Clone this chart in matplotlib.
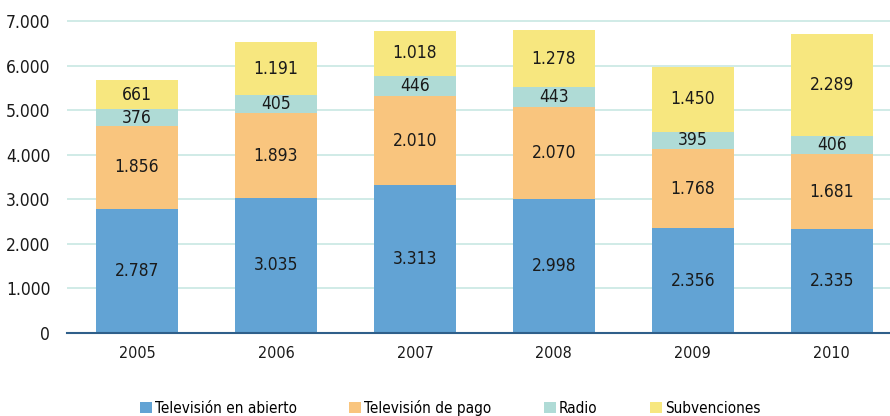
import matplotlib
matplotlib.use("Agg")
import matplotlib.pyplot as plt
from matplotlib.patches import Patch
import numpy as np

plt.rcParams["font.family"] = ["DejaVu Sans"]
plt.rcParams["font.stretch"] = "condensed"

# Ingresos por año (miles de euros)
years = ["2005", "2006", "2007", "2008", "2009", "2010"]
tv_abierto = [2787, 3035, 3313, 2998, 2356, 2335]
tv_pago = [1856, 1893, 2010, 2070, 1768, 1681]
radio = [376, 405, 446, 443, 395, 406]
subvenciones = [661, 1191, 1018, 1278, 1450, 2289]

series = [
    ("Televisión en abierto", tv_abierto, "#62a3d4"),
    ("Televisión de pago", tv_pago, "#f9c57e"),
    ("Radio", radio, "#afdbd6"),
    ("Subvenciones", subvenciones, "#f7e77f"),
]

yticks = [0, 1000, 2000, 3000, 4000, 5000, 6000, 7000]
ytick_labels = ["0", "1.000", "2.000", "3.000", "4.000", "5.000", "6.000", "7.000"]


def fmt(v):
    return f"{v:,}".replace(",", ".")


fig = plt.figure(figsize=(8.9, 4.16), dpi=100)
ax = fig.add_axes([0.0753, 0.1995, 0.9247, 0.7525])

x = np.arange(len(years))
bottom = np.zeros(len(years))
for name, vals, color in series:
    vals = np.array(vals)
    ax.bar(x, vals, width=0.59, bottom=bottom, color=color, zorder=3)
    for xi, b, v in zip(x, bottom, vals):
        ax.text(xi, b + v / 2, fmt(v), ha="center", va="center",
                fontsize=12.5, color="#1a1a1a", zorder=4)
    bottom += vals

ax.set_xlim(-0.504, 5.42)
ax.set_ylim(0, 7025)
ax.set_yticks(yticks)
ax.set_yticklabels(ytick_labels, fontsize=12.5, color="#1a1a1a")
ax.set_xticks(x)
ax.set_xticklabels(years, fontsize=11.5, color="#1a1a1a")
ax.tick_params(axis="both", length=0)
ax.tick_params(axis="y", pad=12)
ax.tick_params(axis="x", pad=9)

ax.grid(axis="y", color="#c8e7e3", linewidth=1.2, zorder=0)
for s in ["top", "right", "left"]:
    ax.spines[s].set_visible(False)
ax.spines["bottom"].set_color("#2f5f8a")
ax.spines["bottom"].set_linewidth(1.5)
ax.spines["bottom"].set_zorder(5)

handles = [Patch(facecolor=c, edgecolor="none") for _, _, c in series]
labels = [n for n, _, _ in series]
fig.legend(handles, labels, loc="center left", bbox_to_anchor=(140 / 890, 0.02),
           ncol=4, frameon=False, fontsize=11, handlelength=0.8, handleheight=0.8,
           handletextpad=0.2, columnspacing=3.4, borderpad=0, borderaxespad=0)

fig.savefig("out.png", dpi=100)
